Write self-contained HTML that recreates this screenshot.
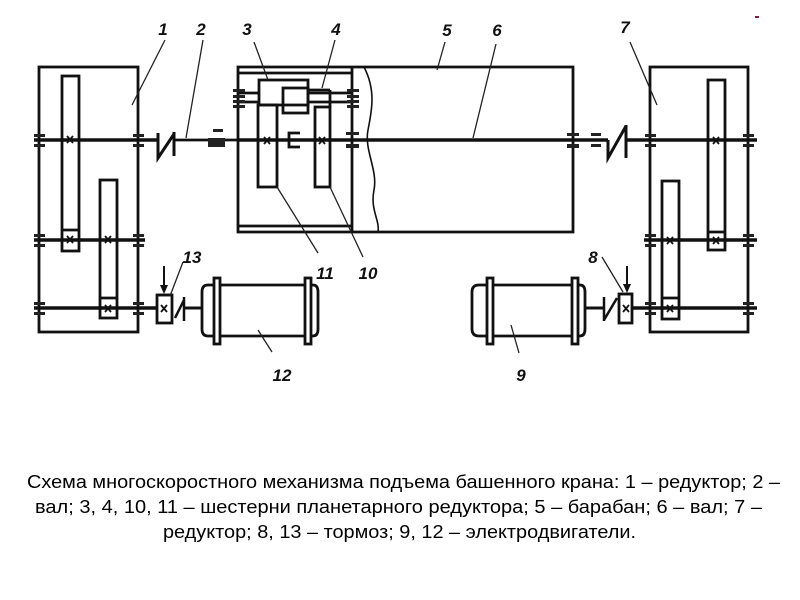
<!DOCTYPE html>
<html><head><meta charset="utf-8"><style>
html,body{margin:0;padding:0;background:#fff;}
svg{display:block;}
</style></head><body>
<svg width="800" height="600" viewBox="0 0 800 600" xmlns="http://www.w3.org/2000/svg">
<rect width="800" height="600" fill="#fff"/>
<g fill="none" stroke="#111" stroke-width="2.8" stroke-linejoin="miter">
<!-- Left reducer 1 -->
<rect x="39" y="67" width="99" height="265"/>
<rect x="62" y="76" width="17" height="175"/>
<line x1="62" y1="230" x2="79" y2="230"/>
<rect x="100" y="180" width="17" height="138"/>
<line x1="100" y1="298" x2="117" y2="298"/>
<!-- Right reducer 7 -->
<rect x="650" y="67" width="98" height="265"/>
<rect x="708" y="80" width="17" height="170"/>
<line x1="708" y1="232" x2="725" y2="232"/>
<rect x="662" y="181" width="17" height="138"/>
<line x1="662" y1="298" x2="679" y2="298"/>
<!-- Drum 5 -->
<path d="M238,67 L573,67 L573,232 L238,232 Z"/>
<line x1="238" y1="73" x2="352" y2="73"/>
<line x1="238" y1="226" x2="352" y2="226"/>
<line x1="352" y1="67" x2="352" y2="232"/>
<path d="M364,67 C376,90 372,110 368,130 C364,150 378,170 374,190 C370,210 380,220 378,232" stroke-width="1.6"/>
<!-- planetary gears -->
<rect x="259" y="80" width="49" height="25"/>
<rect x="283" y="88" width="25" height="25"/>
<line x1="308" y1="90" x2="330" y2="90"/>
<line x1="330" y1="90" x2="330" y2="107"/>
<rect x="258" y="105" width="19" height="82"/>
<rect x="315" y="107" width="15" height="80"/>
<line x1="238" y1="93" x2="259" y2="93"/>
<line x1="238" y1="102" x2="259" y2="102"/>
<line x1="308" y1="93" x2="352" y2="93"/>
<line x1="308" y1="102" x2="352" y2="102"/>
<path d="M300,133 L289,133 L289,147 L300,147 M289,140 L298,140" stroke-width="2.8"/>
<!-- Motors -->
<path d="M213,285 L208,285 Q202,285 202,292 L202,329 Q202,336 208,336 L213,336"/>
<rect x="214" y="278" width="6" height="66"/>
<line x1="220" y1="285" x2="305" y2="285"/>
<line x1="220" y1="336" x2="305" y2="336"/>
<rect x="305" y="278" width="6" height="66"/>
<path d="M311,285 L313,285 Q318,285 318,292 L318,329 Q318,336 313,336 L311,336"/>
<path d="M487,285 L479,285 Q472,285 472,292 L472,329 Q472,336 479,336 L487,336"/>
<rect x="487" y="278" width="6" height="66"/>
<line x1="493" y1="285" x2="572" y2="285"/>
<line x1="493" y1="336" x2="572" y2="336"/>
<rect x="572" y="278" width="6" height="66"/>
<path d="M578,285 L580,285 Q585,285 585,292 L585,329 Q585,336 580,336 L578,336"/>
<!-- Brakes -->
<rect x="157" y="295" width="15" height="28"/>
<rect x="619" y="294" width="13" height="29"/>
</g>
<!-- Shafts -->
<g stroke="#111" fill="none">
<line x1="34" y1="140" x2="158" y2="140" stroke-width="3.5"/>
<line x1="175" y1="140" x2="238" y2="140" stroke-width="2.8"/>
<line x1="238" y1="140" x2="608" y2="140" stroke-width="3.5"/>
<line x1="626" y1="140" x2="757" y2="140" stroke-width="3.5"/>
<line x1="34" y1="240" x2="145" y2="240" stroke-width="3.5"/>
<line x1="644" y1="240" x2="757" y2="240" stroke-width="3.5"/>
<line x1="34" y1="308" x2="157" y2="308" stroke-width="3.5"/>
<line x1="632" y1="308" x2="757" y2="308" stroke-width="3.5"/>
<line x1="184" y1="308" x2="202" y2="308" stroke-width="3"/>
<line x1="585" y1="308" x2="604" y2="308" stroke-width="3"/>
<!-- couplings -->
<path d="M158,133 L158,158 L174,134 M174,132 L174,156" stroke-width="3"/>
<path d="M608,140 L608,158 L626,126 M626,125 L626,158" stroke-width="3"/>
<path d="M175,318 L184,300 M184,297 L184,321" stroke-width="2.5"/>
<path d="M604,297 L604,321 M604,320 L617,298" stroke-width="2.5"/>
<!-- brake arrows -->
<line x1="164" y1="266" x2="164" y2="287" stroke-width="2"/>
<line x1="158" y1="295" x2="172" y2="295" stroke-width="2.5"/>
<line x1="627" y1="266" x2="627" y2="286" stroke-width="2"/>
<line x1="620" y1="294" x2="633" y2="294" stroke-width="2.5"/>
</g>
<g fill="#111">
<path d="M160,285 L168,285 L164,294 Z"/>
<path d="M623,284 L631,284 L627,293 Z"/>
</g>
<!-- Bearings -->
<g fill="#222">
<rect x="34" y="134" width="11" height="3"/><rect x="34" y="144" width="11" height="3"/>
<rect x="133" y="134" width="11" height="3"/><rect x="133" y="144" width="11" height="3"/>
<rect x="34" y="234" width="11" height="3"/><rect x="34" y="244" width="11" height="3"/>
<rect x="133" y="234" width="11" height="3"/><rect x="133" y="244" width="11" height="3"/>
<rect x="34" y="302" width="11" height="3"/><rect x="34" y="312" width="11" height="3"/>
<rect x="133" y="302" width="11" height="3"/><rect x="133" y="312" width="11" height="3"/>
<rect x="645" y="134" width="11" height="3"/><rect x="645" y="144" width="11" height="3"/>
<rect x="743" y="134" width="11" height="3"/><rect x="743" y="144" width="11" height="3"/>
<rect x="645" y="234" width="11" height="3"/><rect x="645" y="244" width="11" height="3"/>
<rect x="743" y="234" width="11" height="3"/><rect x="743" y="244" width="11" height="3"/>
<rect x="645" y="302" width="11" height="3"/><rect x="645" y="312" width="11" height="3"/>
<rect x="743" y="302" width="11" height="3"/><rect x="743" y="312" width="11" height="3"/>
<rect x="567" y="133" width="12" height="3"/><rect x="567" y="144" width="12" height="4"/>
<rect x="346" y="132" width="13" height="3"/><rect x="346" y="144" width="13" height="4"/>
<rect x="233" y="89" width="12" height="3"/><rect x="233" y="95" width="12" height="3"/>
<rect x="233" y="100" width="12" height="3"/><rect x="233" y="105" width="12" height="3"/>
<rect x="347" y="89" width="12" height="3"/><rect x="347" y="95" width="12" height="3"/>
<rect x="347" y="100" width="12" height="3"/><rect x="347" y="105" width="12" height="3"/>
<rect x="213" y="129" width="10" height="3"/>
<rect x="208" y="138" width="17" height="9"/>
<rect x="591" y="133" width="10" height="3"/>
<rect x="591" y="144" width="10" height="3"/>
</g>
<!-- crosses -->
<g stroke="#111" stroke-width="1.8">
<path d="M67,136 l6,7 M73,136 l-6,7"/>
<path d="M67,236 l6,7 M73,236 l-6,7"/>
<path d="M105,236 l6,7 M111,236 l-6,7"/>
<path d="M105,305 l6,7 M111,305 l-6,7"/>
<path d="M161,305 l6,7 M167,305 l-6,7"/>
<path d="M264,137 l6,7 M270,137 l-6,7"/>
<path d="M319,137 l6,7 M325,137 l-6,7"/>
<path d="M713,137 l6,7 M719,137 l-6,7"/>
<path d="M713,237 l6,7 M719,237 l-6,7"/>
<path d="M667,237 l6,7 M673,237 l-6,7"/>
<path d="M667,305 l6,7 M673,305 l-6,7"/>
<path d="M623,305 l6,7 M629,305 l-6,7"/>
</g>
<!-- leaders -->
<g stroke="#222" stroke-width="1.3">
<line x1="165" y1="40" x2="132" y2="105"/>
<line x1="203" y1="40" x2="186" y2="138"/>
<line x1="254" y1="42" x2="268" y2="80"/>
<line x1="335" y1="40" x2="322" y2="88"/>
<line x1="445" y1="42" x2="437" y2="70"/>
<line x1="496" y1="44" x2="473" y2="138"/>
<line x1="630" y1="42" x2="657" y2="105"/>
<line x1="602" y1="257" x2="623" y2="292"/>
<line x1="183" y1="262" x2="170" y2="296"/>
<line x1="277" y1="187" x2="318" y2="253"/>
<line x1="330" y1="187" x2="363" y2="257"/>
<line x1="272" y1="352" x2="258" y2="330"/>
<line x1="519" y1="353" x2="511" y2="325"/>
</g>
<!-- labels -->
<g font-family="Liberation Sans, sans-serif" font-style="italic" font-weight="bold" font-size="17" fill="#111" text-anchor="middle">
<text x="163" y="35">1</text>
<text x="201" y="35">2</text>
<text x="247" y="35">3</text>
<text x="336" y="35">4</text>
<text x="447" y="36">5</text>
<text x="497" y="36">6</text>
<text x="625" y="33">7</text>
<text x="593" y="263">8</text>
<text x="192" y="263">13</text>
<text x="325" y="279">11</text>
<text x="368" y="279">10</text>
<text x="282" y="381">12</text>
<text x="521" y="381">9</text>
</g>
<rect x="755" y="16" width="4" height="2" fill="#802040"/>
<!-- caption -->
<g font-family="Liberation Sans, sans-serif" font-size="18" fill="#000">
<text x="27" y="488" textLength="753" lengthAdjust="spacingAndGlyphs">Схема многоскоростного механизма подъема башенного крана: 1 – редуктор; 2 –</text>
<text x="35" y="513" textLength="727" lengthAdjust="spacingAndGlyphs">вал; 3, 4, 10, 11 – шестерни планетарного редуктора; 5 – барабан; 6 – вал; 7 –</text>
<text x="163" y="538" textLength="473" lengthAdjust="spacingAndGlyphs">редуктор; 8, 13 – тормоз; 9, 12 – электродвигатели.</text>
</g>
</svg>
</body></html>
